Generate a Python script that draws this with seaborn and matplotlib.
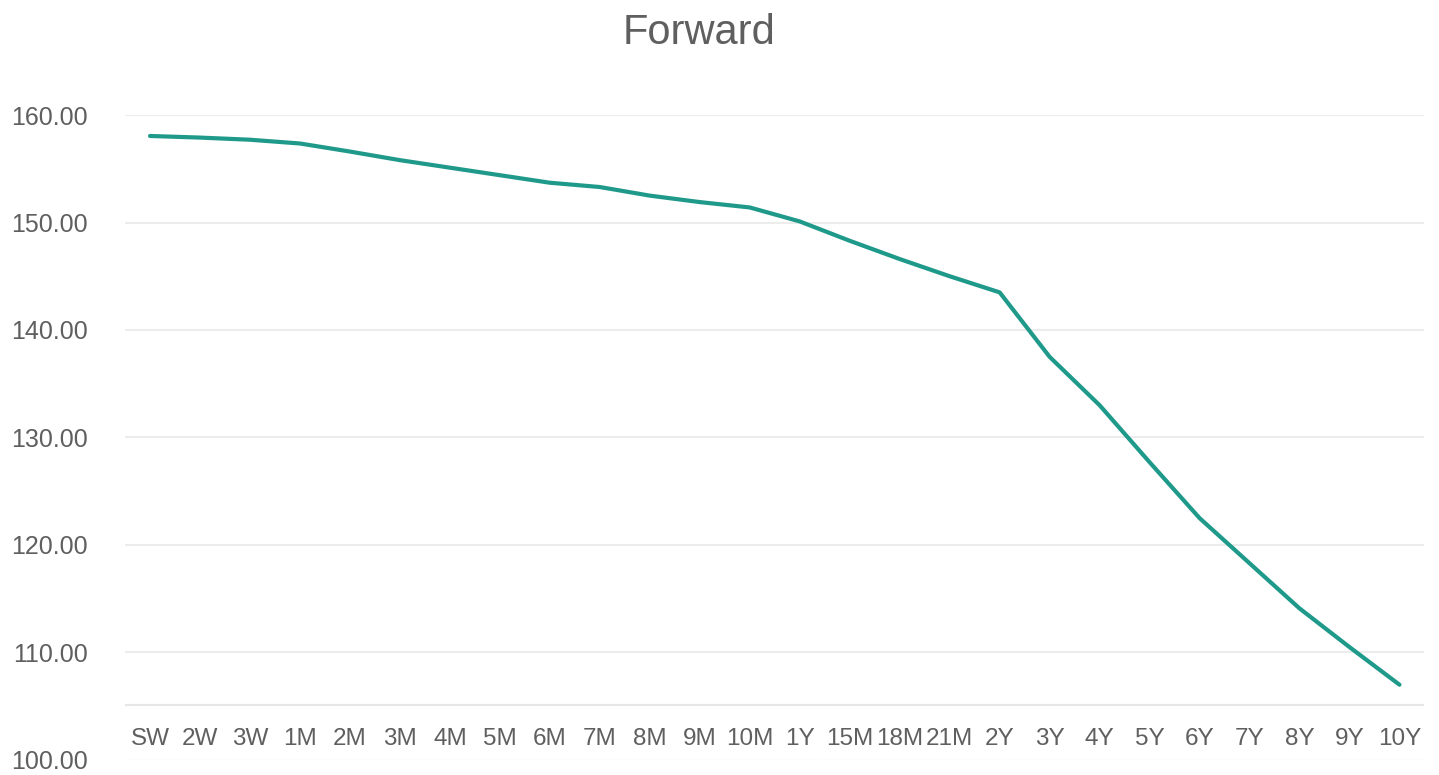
import pandas as pd
import matplotlib
matplotlib.use("Agg")
import matplotlib.pyplot as plt
import seaborn as sns

sns.set_style("white")
plt.rcParams["font.family"] = ["Liberation Sans", "DejaVu Sans"]

TENORS = [
    "SW", "2W", "3W", "1M", "2M", "3M", "4M", "5M", "6M", "7M", "8M", "9M",
    "10M", "1Y", "15M", "18M", "21M", "2Y", "3Y", "4Y", "5Y", "6Y", "7Y",
    "8Y", "9Y", "10Y",
]
FORWARD = [
    158.05, 157.9, 157.7, 157.35, 156.6, 155.8, 155.1, 154.4, 153.7, 153.3,
    152.5, 151.9, 151.4, 150.1, 148.3, 146.6, 145.0, 143.5, 137.5, 133.0,
    127.7, 122.5, 118.3, 114.1, 110.5, 107.0,
]
Y_TICKS = [100, 110, 120, 130, 140, 150, 160]

TEXT_COLOR = "#5f5f5f"
LINE_COLOR = "#1f9a8a"
GRID_COLOR = "#ececec"

df = pd.DataFrame({"pos": range(len(TENORS)), "tenor": TENORS, "forward": FORWARD})

fig = plt.figure(figsize=(14.39, 7.75), dpi=100)
ax = fig.add_axes([0.0869, 0.0194, 0.903, 0.8322])

# gridlines (the 100 line is faint and dotted, as in the source)
for v in Y_TICKS[1:]:
    ax.axhline(v, color=GRID_COLOR, linewidth=1.5, zorder=0)
ax.axhline(Y_TICKS[0], color="#e4e4e4", linewidth=1, linestyle=":", zorder=0)
# category axis line sits above the labels
ax.axhline(105.1, color="#e6e6e6", linewidth=1.5, zorder=0)

sns.lineplot(data=df, x="pos", y="forward", ax=ax, color=LINE_COLOR,
             linewidth=3, sort=False)

ax.set_xlim(-0.5, 25.5)
ax.set_ylim(100, 160)
ax.set_yticks(Y_TICKS)
ax.set_yticklabels([f"{v:.2f}" for v in Y_TICKS])
ax.set_xticks(df["pos"])
ax.set_xticklabels(TENORS)
ax.tick_params(axis="y", length=0, pad=27, labelsize=18, labelcolor=TEXT_COLOR)
ax.tick_params(axis="x", length=0, pad=-23, labelsize=17.5, labelcolor=TEXT_COLOR)
ax.set_xlabel("")
ax.set_ylabel("")
for s in ax.spines.values():
    s.set_visible(False)

fig.text(0.486, 0.958, "Forward", ha="center", va="center",
         fontsize=30, color=TEXT_COLOR)

plt.savefig("out.png", dpi=100)
plt.close()
